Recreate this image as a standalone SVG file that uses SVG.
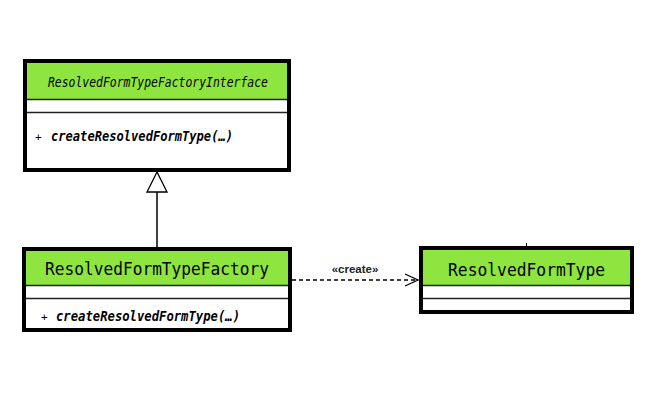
<svg xmlns="http://www.w3.org/2000/svg" width="650" height="400" viewBox="0 0 650 400">
<style>
.box{fill:#fff;stroke:#000;stroke-width:4}
.hdr{fill:#8ee53f}
.sep{stroke:#222;stroke-width:1.5}
.name{font-family:"DejaVu Sans Mono",monospace;fill:#000}
.meth{font-family:"DejaVu Sans Mono",monospace;fill:#000}
.lbl{font-family:"Liberation Sans",Arial,sans-serif;font-size:11.5px;font-weight:bold;fill:#222;text-anchor:middle}
</style>
<defs>
<marker id="open" markerWidth="16" markerHeight="16" refX="14" refY="7" orient="auto" markerUnits="userSpaceOnUse">
<path d="M1,1 L14,7 L1,13" fill="none" stroke="#000" stroke-width="1.3"/>
</marker>
</defs>
<rect width="650" height="400" fill="#fff"/>
<g id="ResolvedFormTypeFactoryInterface">
<rect class="box" x="25" y="61" width="264" height="109"/>
<rect class="hdr" x="27" y="63" width="260" height="36"/>
<line class="sep" x1="27" y1="99.5" x2="287" y2="99.5"/>
<line class="sep" x1="27" y1="112.5" x2="287" y2="112.5"/>
<text class="name" x="48" y="87" font-size="13.5" font-style="italic" textLength="220" lengthAdjust="spacingAndGlyphs">ResolvedFormTypeFactoryInterface</text>
<text class="meth" x="35" y="141" font-size="11">+</text>
<text class="meth" x="51" y="141" font-size="13.5" font-style="italic" font-weight="bold" textLength="182" lengthAdjust="spacingAndGlyphs">createResolvedFormType(…)</text>
</g>
<g id="ResolvedFormTypeFactory">
<rect class="box" x="24" y="249" width="266" height="81"/>
<rect class="hdr" x="26" y="251" width="262" height="34"/>
<line class="sep" x1="26" y1="285.5" x2="288" y2="285.5"/>
<line class="sep" x1="26" y1="298.5" x2="288" y2="298.5"/>
<text class="name" x="45" y="275" font-size="18" textLength="224" lengthAdjust="spacingAndGlyphs">ResolvedFormTypeFactory</text>
<text class="meth" x="41" y="321" font-size="11">+</text>
<text class="meth" x="56" y="321" font-size="13.5" font-style="italic" font-weight="bold" textLength="184" lengthAdjust="spacingAndGlyphs">createResolvedFormType(…)</text>
</g>
<g id="ResolvedFormType">
<line x1="526.5" y1="243" x2="526.5" y2="247" stroke="#000" stroke-width="1"/>
<rect class="box" x="421" y="248" width="211" height="64"/>
<rect class="hdr" x="423" y="250" width="207" height="35"/>
<line class="sep" x1="423" y1="285.5" x2="630" y2="285.5"/>
<line class="sep" x1="423" y1="298.5" x2="630" y2="298.5"/>
<text class="name" x="448" y="276" font-size="18" textLength="157" lengthAdjust="spacingAndGlyphs">ResolvedFormType</text>
</g>
<g id="connectors">
<line x1="157" y1="247" x2="157" y2="192" stroke="#000" stroke-width="1.5"/>
<polygon points="157,172 147,192 167,192" fill="#fff" stroke="#000" stroke-width="1.3"/>
<line x1="292" y1="280" x2="418" y2="280" stroke="#000" stroke-width="1.3" stroke-dasharray="4,3" marker-end="url(#open)"/>
<text class="lbl" x="355" y="273">«create»</text>
</g>
</svg>
